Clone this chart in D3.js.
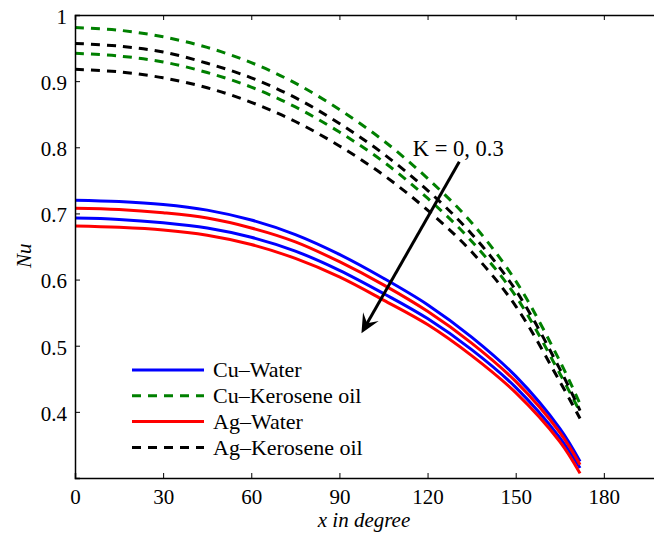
<!DOCTYPE html>
<html>
<head>
<meta charset="utf-8">
<script src="https://cdn.jsdelivr.net/npm/d3@7"></script>
<style>
  body { margin: 0; background: #fff; }
</style>
</head>
<body>
<svg id="chart" width="654" height="534"></svg>
<script>
// x positions (degree), curves end at 3 rad
const xDeg = [0, 15, 30, 45, 60, 75, 90, 105, 120, 135, 150, 165, 171.9];

// Nu values, K = 0 and K = 0.3
const cuWaterK0   = [0.720, 0.718, 0.7135, 0.705, 0.690, 0.668, 0.638, 0.602, 0.562, 0.513, 0.454, 0.375, 0.325];
const cuWaterK3   = [0.693, 0.691, 0.686, 0.678, 0.664, 0.643, 0.614, 0.579, 0.541, 0.494, 0.437, 0.361, 0.315];
const agWaterK0   = [0.708, 0.706, 0.701, 0.693, 0.678, 0.657, 0.627, 0.592, 0.552, 0.504, 0.446, 0.369, 0.320];
const agWaterK3   = [0.681, 0.679, 0.675, 0.667, 0.653, 0.632, 0.604, 0.569, 0.532, 0.485, 0.429, 0.355, 0.307];
const cuKeroK0    = [0.981, 0.977, 0.967, 0.951, 0.928, 0.897, 0.857, 0.810, 0.753, 0.686, 0.598, 0.477, 0.412];
const cuKeroK3    = [0.942, 0.938, 0.929, 0.913, 0.891, 0.861, 0.823, 0.778, 0.723, 0.658, 0.575, 0.458, 0.400];
const agKeroK0    = [0.957, 0.953, 0.944, 0.927, 0.905, 0.875, 0.836, 0.790, 0.735, 0.669, 0.584, 0.465, 0.402];
const agKeroK3    = [0.918, 0.914, 0.905, 0.890, 0.868, 0.839, 0.802, 0.758, 0.705, 0.642, 0.560, 0.446, 0.390];

const xTicks = [0, 30, 60, 90, 120, 150, 180];
const yTicks = [0.4, 0.5, 0.6, 0.7, 0.8, 0.9, 1];

const legendNames = ['Cu\u2013Water', 'Cu\u2013Kerosene oil', 'Ag\u2013Water', 'Ag\u2013Kerosene oil'];

const FONT = "'Liberation Serif', 'DejaVu Serif', 'Times New Roman', Times, serif";

const svg = d3.select('#chart').attr('font-family', FONT);

const xScale = d3.scaleLinear().domain([0, 200]).range([75, 662.6]);
const yScale = d3.scaleLinear().domain([0.3, 1]).range([478, 15]);

const solid = null, dashed = '9,7';
const series = [
  { vals: cuKeroK0, color: '#008000', dash: dashed },
  { vals: cuKeroK3, color: '#008000', dash: dashed },
  { vals: agKeroK0, color: '#000000', dash: dashed },
  { vals: agKeroK3, color: '#000000', dash: dashed },
  { vals: cuWaterK0, color: '#0000ff', dash: solid },
  { vals: cuWaterK3, color: '#0000ff', dash: solid },
  { vals: agWaterK0, color: '#ff0000', dash: solid },
  { vals: agWaterK3, color: '#ff0000', dash: solid }
];

const lineGenerator = d3.line()
  .x((d, i) => xScale(xDeg[i]))
  .y(d => yScale(d))
  .curve(d3.curveCatmullRom.alpha(0.5));

series.forEach(s => {
  svg.append('path')
    .attr('d', lineGenerator(s.vals))
    .attr('fill', 'none')
    .attr('stroke', s.color)
    .attr('stroke-width', 3)
    .attr('stroke-dasharray', s.dash);
});

// axes box (left, bottom, top)
const xAxis = d3.axisBottom(xScale).tickValues(xTicks).tickSize(-5).tickPadding(8).tickFormat(d => d);
const xAxisG = svg.append('g').attr('transform', `translate(0,${yScale(0.3)})`).call(xAxis);
const xTopG = svg.append('g').attr('transform', `translate(0,${yScale(1)})`)
  .call(d3.axisTop(xScale).tickValues(xTicks).tickSize(-5).tickFormat(''));
const yAxis = d3.axisLeft(yScale).tickValues(yTicks).tickSize(-5).tickPadding(8)
  .tickFormat(d => d === 1 ? '1' : d3.format('.1f')(d));
const yAxisG = svg.append('g').attr('transform', `translate(${xScale(0)},0)`).call(yAxis);

[xAxisG, xTopG, yAxisG].forEach(g => {
  g.attr('font-family', FONT).attr('font-size', 21);
  g.selectAll('.domain').attr('stroke', '#000').attr('stroke-width', 1.5);
  g.selectAll('.tick line').attr('stroke', '#000').attr('stroke-width', 1);
  g.selectAll('.tick text').attr('fill', '#000');
});
xAxisG.selectAll('.tick text').attr('dy', '0.85em');
yAxisG.selectAll('.tick text').attr('dy', '0.4em');

svg.append('text')
  .attr('x', 364)
  .attr('y', 527)
  .attr('text-anchor', 'middle')
  .attr('font-size', 21)
  .attr('font-style', 'italic')
  .text('x in degree');

svg.append('text')
  .attr('transform', `translate(31,${yScale(0.636)}) rotate(-90)`)
  .attr('text-anchor', 'middle')
  .attr('font-size', 21)
  .attr('font-style', 'italic')
  .text('Nu');

// legend
const legendColors = ['#0000ff', '#008000', '#ff0000', '#000000'];
const legendDash = [solid, dashed, solid, dashed];
legendNames.forEach((name, i) => {
  const y = 370 + i * 25.8;
  svg.append('line')
    .attr('x1', 132).attr('x2', 204)
    .attr('y1', y).attr('y2', y)
    .attr('stroke', legendColors[i])
    .attr('stroke-width', 3)
    .attr('stroke-dasharray', legendDash[i]);
  svg.append('text')
    .attr('x', 213)
    .attr('y', y + 7.3)
    .attr('font-size', 22)
    .text(name);
});

// annotation arrow
const arrowFrom = [130.8, 0.778], arrowTo = [97.5, 0.519];
const x1 = xScale(arrowFrom[0]), y1 = yScale(arrowFrom[1]);
const x2 = xScale(arrowTo[0]), y2 = yScale(arrowTo[1]);
const ang = Math.atan2(y2 - y1, x2 - x1);
const headLen = 19, headW = 9;
svg.append('line')
  .attr('x1', x1).attr('y1', y1)
  .attr('x2', x2 - Math.cos(ang) * 8).attr('y2', y2 - Math.sin(ang) * 8)
  .attr('stroke', '#000').attr('stroke-width', 3);
const bx = x2 - Math.cos(ang) * headLen, by = y2 - Math.sin(ang) * headLen;
const nx = x2 - Math.cos(ang) * headLen * 0.6, ny = y2 - Math.sin(ang) * headLen * 0.6;
const px = -Math.sin(ang) * headW, py = Math.cos(ang) * headW;
svg.append('path')
  .attr('d', `M${x2},${y2}L${bx + px},${by + py}L${nx},${ny}L${bx - px},${by - py}Z`)
  .attr('fill', '#000');

svg.append('text')
  .attr('x', xScale(115))
  .attr('y', yScale(0.787))
  .attr('font-size', 22.5)
  .text('K = 0, 0.3');
</script>
</body>
</html>
